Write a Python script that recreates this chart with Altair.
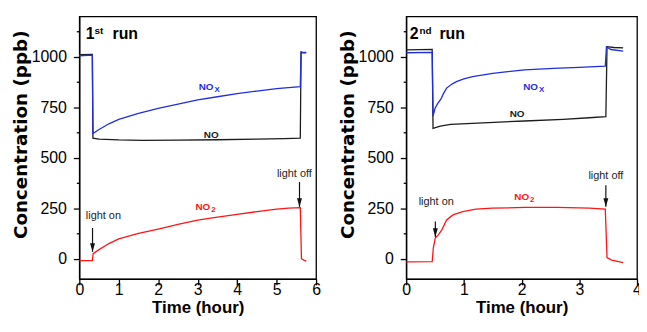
import altair as alt
import pandas as pd

# ---------------- Run 1 data (time in hours, concentration in ppb) -------------
r1_nox_t = [0, 0.33, 0.345, 0.5, 0.75, 1.0, 1.5, 2.0, 2.5, 3.0, 3.5, 4.0, 4.5, 5.0, 5.3, 5.6, 5.62, 5.68, 5.75]
r1_nox_v = [1005, 1008, 620, 640, 668, 690, 720, 744, 766, 786, 802, 817, 830, 842, 847, 852, 1025, 1020, 1022]
r1_no_t = [0, 0.33, 0.345, 0.5, 1.0, 1.6, 2.5, 3.5, 4.5, 5.2, 5.6, 5.62, 5.75]
r1_no_v = [1010, 1012, 597, 592, 588, 586, 587, 589, 592, 595, 597, 1022, 1020]
r1_no2_t = [0, 0.33, 0.35, 0.5, 0.75, 1.0, 1.5, 2.0, 2.5, 3.0, 3.5, 4.0, 4.5, 5.0, 5.3, 5.6, 5.63, 5.7, 5.75]
r1_no2_v = [-10, -10, 25, 45, 75, 98, 125, 147, 170, 191, 206, 220, 233, 245, 250, 253, 0, -8, -12]

# ---------------- Run 2 data -------------
r2_nox_t = [0, 0.45, 0.465, 0.5, 0.55, 0.6, 0.65, 0.7, 0.8, 0.87, 1.0, 1.15, 1.5, 2.05, 2.55, 3.0, 3.45, 3.47, 3.55, 3.76]
r2_nox_v = [1020, 1022, 706, 745, 770, 790, 820, 845, 866, 877, 890, 902, 918, 935, 943, 948, 954, 1049, 1036, 1028]
r2_no_t = [0, 0.45, 0.465, 0.59, 0.77, 1.33, 2.05, 2.72, 3.17, 3.46, 3.48, 3.6, 3.76]
r2_no_v = [1034, 1037, 646, 657, 665, 673, 682, 690, 698, 703, 1050, 1046, 1044]
r2_no2_t = [0, 0.45, 0.47, 0.505, 0.56, 0.62, 0.70, 0.81, 0.98, 1.21, 1.49, 2.05, 2.61, 3.17, 3.45, 3.48, 3.56, 3.76]
r2_no2_v = [-16, -15, 54, 103, 119, 144, 192, 217, 233, 245, 250, 254, 254, 250, 246, 5, -7, -20]

series_names = ["NO", "NOx", "NO2"]
series_colors = ["#1c1c1c", "#1f2fe0", "#ff1414"]

# annotations (data coordinates)
r1_arrow_t = [0.335, 5.58]
r1_arrow_from = [152, 380]
r1_arrow_to = [34, 256]
r1_light_t = [0.61, 5.45]
r1_light_v = [212, 421]
r2_arrow_t = [0.505, 3.46]
r2_arrow_from = [184, 364]
r2_arrow_to = [108, 257]
r2_light_t = [0.52, 3.46]
r2_light_v = [279, 409]
light_text = ["light on", "light off"]

r1_lab_t = [3.53, 3.40, 3.32]
r1_lab_v = [600, 837, 241]
r2_lab_t = [2.05, 2.285, 2.13]
r2_lab_v = [701, 834, 290]
lab_main = ["NO", "NO", "NO"]
lab_sub = ["", "X", "2"]

run_t = [0.164, 0.06]
run_v = [1090, 1090]
run_main = ["1", "2"]
run_sup = ["st", "nd"]

y_ticks = [0, 125, 250, 375, 500, 625, 750, 875, 1000, 1125]

FONT = "Liberation Sans"
ARROW = "M-1,-3.5L1,-3.5L0,0Z"
X_TITLE = "Time (hour)"
Y_TITLE = "Concentration (ppb)"


def long_df(ts, vs, name):
    return pd.DataFrame({"t": ts, "v": vs, "s": name})


def panel(series, xmax, width, arrows, lights, labels, run_idx, sup_dx, run_dx):
    df = pd.concat([long_df(t, v, n) for t, v, n in series], ignore_index=True)
    x_vals = [i * 0.5 for i in range(int(xmax * 2) + 1)]
    xs = alt.Scale(domain=[0, xmax], nice=False, zero=False)
    ys = alt.Scale(domain=[-100, 1200], nice=False, zero=False)
    color = alt.Color("s:N", scale=alt.Scale(domain=series_names, range=series_colors), legend=None)

    xaxis = alt.Axis(
        values=x_vals, format="d",
        labelExpr="datum.value % 1 === 0 ? datum.label : ''",
        tickSize={"condition": {"test": "datum.value % 1 === 0", "value": 6}, "value": 3},
        labelPadding=-3, titleY=34, titleBaseline="alphabetic", labelFlush=False, labelOverlap=False,
    )
    yaxis = alt.Axis(
        values=y_ticks, format="d",
        labelExpr="datum.value % 250 === 0 ? datum.label : ''",
        tickSize={"condition": {"test": "datum.value % 250 === 0", "value": 6}, "value": 3},
        labelPadding=7, titleX=-49, titleY=119, titleFont="DejaVu Sans", titleFontSize=18.5,
        labelFlush=False, labelOverlap=False, minExtent=46, maxExtent=46,
    )
    X = alt.X("t:Q", scale=xs, axis=xaxis, title=X_TITLE)
    Y = alt.Y("v:Q", scale=ys, axis=yaxis, title=Y_TITLE)
    Y2 = alt.Y("v2:Q", scale=ys, axis=yaxis, title=Y_TITLE)

    lines = alt.Chart(df).mark_line(strokeWidth=1.3).encode(x=X, y=Y, color=color, detail="s:N")

    adf = pd.DataFrame({"t": arrows[0], "v": arrows[1], "v2": arrows[2]})
    shaft = alt.Chart(adf).mark_rule(color="#111", strokeWidth=1.2).encode(x=X, y=Y, y2="v2:Q")
    head = alt.Chart(adf).mark_point(shape=ARROW, filled=True, size=25, color="#111", opacity=1).encode(
        x=X, y=Y2)

    ldf = pd.DataFrame({"t": lights[0], "v": lights[1], "txt": light_text})
    ltext = alt.Chart(ldf).mark_text(font=FONT, fontSize=11, color="#222", baseline="middle").encode(
        x=X, y=Y, text="txt:N")

    sdf = pd.DataFrame({"t": labels[0], "v": labels[1], "main": lab_main, "sub": lab_sub, "s": series_names})
    smain = alt.Chart(sdf).mark_text(font=FONT, fontSize=10, fontWeight="bold", align="right",
                                     baseline="alphabetic").encode(x=X, y=Y, text="main:N", color=color)
    ssub = alt.Chart(sdf).mark_text(font=FONT, fontSize=8, fontWeight="bold", align="left",
                                    baseline="alphabetic", dx=1, dy=2).encode(x=X, y=Y, text="sub:N", color=color)

    rdf = pd.DataFrame({"t": [run_t[run_idx]], "v": [run_v[run_idx]], "main": [run_main[run_idx]],
                        "sup": [run_sup[run_idx]], "run": ["run"]})
    r_main = alt.Chart(rdf).mark_text(font=FONT, fontSize=16, fontWeight="bold", align="left",
                                      baseline="alphabetic", color="black").encode(x=X, y=Y, text="main:N")
    r_sup = alt.Chart(rdf).mark_text(font=FONT, fontSize=10, fontWeight="bold", align="left",
                                     baseline="alphabetic", color="black", dx=sup_dx, dy=-5).encode(
        x=X, y=Y, text="sup:N")
    r_run = alt.Chart(rdf).mark_text(font=FONT, fontSize=16, fontWeight="bold", align="left",
                                     baseline="alphabetic", color="black", dx=run_dx).encode(
        x=X, y=Y, text="run:N")

    return alt.layer(lines, shaft, head, ltext, smain, ssub, r_main, r_sup, r_run).properties(
        width=width, height=265)


left = panel([(r1_no_t, r1_no_v, "NO"), (r1_nox_t, r1_nox_v, "NOx"), (r1_no2_t, r1_no2_v, "NO2")],
             6, 239, (r1_arrow_t, r1_arrow_from, r1_arrow_to), (r1_light_t, r1_light_v),
             (r1_lab_t, r1_lab_v), 0, 8.8, 27)
right = panel([(r2_no_t, r2_no_v, "NO"), (r2_nox_t, r2_nox_v, "NOx"), (r2_no2_t, r2_no2_v, "NO2")],
              4, 233, (r2_arrow_t, r2_arrow_from, r2_arrow_to), (r2_light_t, r2_light_v),
              (r2_lab_t, r2_lab_v), 1, 10, 30)

chart = alt.hconcat(left, right, spacing=16).properties(
    padding={"left": 3, "top": 6, "right": -4, "bottom": -1}
).configure_view(stroke="black", strokeWidth=1.3).configure_axis(
    grid=False, domainColor="black", domainWidth=1.3, tickColor="black", tickWidth=1.3,
    labelFont=FONT, labelFontSize=16, labelColor="black",
    titleFont=FONT, titleFontSize=17, titleFontWeight="bold", titleColor="black",
).configure_concat(spacing=16)

chart.save("out.html", embed_options={"renderer": "svg", "actions": False})
